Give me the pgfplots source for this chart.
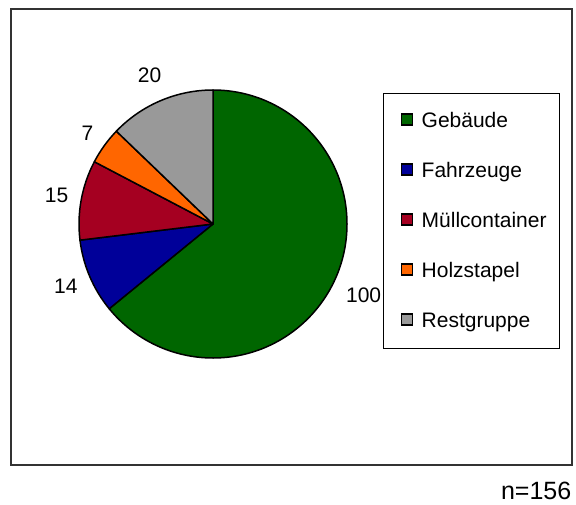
\documentclass[border=0pt]{standalone}
\usepackage{pgfplots}
\pgfplotsset{compat=1.18}
\usepackage{pgfplotstable}
\usepackage{fontspec}
\setmainfont{Liberation Sans}
\definecolor{cgeb}{RGB}{0,102,0}
\definecolor{cfahr}{RGB}{0,0,153}
\definecolor{cmuell}{RGB}{165,0,33}
\definecolor{cholz}{RGB}{255,102,0}
\definecolor{crest}{RGB}{153,153,153}
\newcommand\labelfont{\fontsize{21bp}{25bp}\selectfont}

\pgfplotstableread{
label value color
Gebäude 100 cgeb
Fahrzeuge 14 cfahr
Müllcontainer 15 cmuell
Holzstapel 7 cholz
Restgruppe 20 crest
}\piedata

\begin{document}
\begin{tikzpicture}[font=\labelfont]
\begin{axis}[scale only axis, width=576bp, height=505bp,
  xmin=0, xmax=576, ymin=0, ymax=505, y dir=reverse,
  hide axis, clip=false]
\path (axis cs:0,0) rectangle (axis cs:576,505);
\draw[line width=1.5bp, draw=black!80] (axis cs:11,9) rectangle (axis cs:572,465);
\pgfplotstablegetrowsof{\piedata}
\pgfmathtruncatemacro{\nrows}{\pgfplotsretval-1}
\def\pieTotal{0}
\pgfplotsforeachungrouped \i in {0,...,\nrows}{%
  \pgfplotstablegetelem{\i}{value}\of\piedata
  \pgfmathsetmacro{\pieTotal}{\pieTotal+\pgfplotsretval}}
\def\pieCum{0}
\pgfplotsforeachungrouped \i in {0,...,\nrows}{%
  \pgfplotstablegetelem{\i}{value}\of\piedata \let\pieVal\pgfplotsretval
  \pgfplotstablegetelem{\i}{color}\of\piedata \let\pieCol\pgfplotsretval
  \pgfmathsetmacro{\pieA}{90-\pieCum/\pieTotal*360}
  \pgfmathsetmacro{\pieB}{90-(\pieCum+\pieVal)/\pieTotal*360}
  \pgfmathsetmacro{\pieM}{(\pieA+\pieB)/2}
  \pgfmathtruncatemacro{\pieAn}{mod(\pieM+540,360)}
  \edef\pieTemp{%
    \noexpand\filldraw[fill=\pieCol, draw=black, line width=1.5bp, line join=round]
      (axis cs:213,224) -- ++(\pieA:134bp) arc[start angle=\pieA, end angle=\pieB, radius=134bp] -- cycle;
    \noexpand\path (axis cs:213,224) ++(\pieM:146bp)
      node[anchor=\pieAn, inner xsep=1bp, inner ysep=7bp] {\pieVal};
  }\pieTemp
  \pgfmathsetmacro{\pieCum}{\pieCum+\pieVal}
}
\draw[fill=white, line width=1bp] (axis cs:383,94) rectangle (axis cs:559,348);
\pgfplotsforeachungrouped \i in {0,...,\nrows}{%
  \pgfplotstablegetelem{\i}{color}\of\piedata \let\pieCol\pgfplotsretval
  \pgfplotstablegetelem{\i}{label}\of\piedata \let\pieLab\pgfplotsretval
  \pgfmathsetmacro{\pieY}{119.5+50*\i}
  \edef\pieTemp{%
    \noexpand\filldraw[fill=\pieCol, draw=black, line width=1.2bp]
      (axis cs:401.5,\pieY) ++(0bp,-5.5bp) rectangle ++(11bp,11bp);
    \noexpand\node[anchor=base west, inner sep=0pt, yshift=-7.5bp] at (axis cs:421.5,\pieY) {\pieLab};
  }\pieTemp
}
\node[anchor=base east, inner sep=0pt, font=\fontsize{25bp}{30bp}\selectfont] at (axis cs:571.5,499.5) {n=156};
\end{axis}
\end{tikzpicture}
\end{document}
